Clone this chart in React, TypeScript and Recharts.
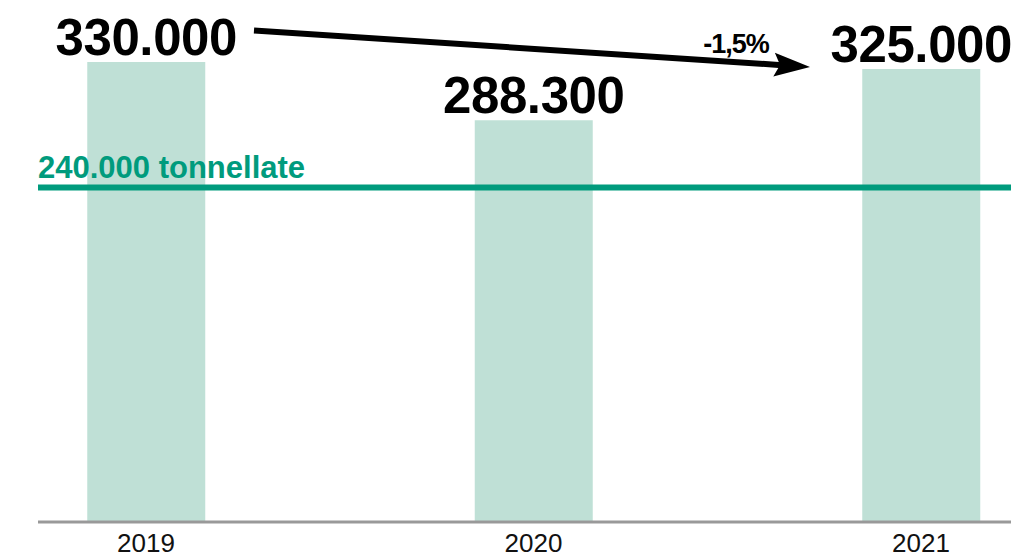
import React from 'react';
import { BarChart, Bar, XAxis, YAxis, ReferenceLine, LabelList } from 'recharts';

const years = [2019, 2020, 2021];
const tonnes = [330000, 288300, 325000];
const target = 240000;
const targetLabel = '240.000 tonnellate';
const changeLabel = '-1,5%';

const data = years.map((year, i) => ({ year, value: tonnes[i] }));

const fmt = (v: number) => String(v).replace(/\B(?=(\d{3})+(?!\d))/g, '.');

const FONT = '"Liberation Sans", Arial, Helvetica, sans-serif';
const GREEN = '#009b7d';
const BAR = '#bfe0d6';

const Arrow = (props: any) => {
  const { x1, y1, x2, y2 } = props;
  const sx = x1 + 108;
  const sy = y1 - 31.5;
  const tx = x2 - 111;
  const ty = y2 - 2;
  const ang = Math.atan2(ty - sy, tx - sx);
  const c = Math.cos(ang);
  const s = Math.sin(ang);
  const len = 36;
  const half = 12;
  const bx = tx - len * c;
  const by = ty - len * s;
  const nx = bx + 6 * c;
  const ny = by + 6 * s;
  const pts = [
    [tx, ty],
    [bx - half * s, by + half * c],
    [nx, ny],
    [bx + half * s, by - half * c],
  ]
    .map((p) => p.join(','))
    .join(' ');
  return (
    <g>
      <line x1={sx} y1={sy} x2={nx + 2 * c} y2={ny + 2 * s} stroke="#000" strokeWidth={6} />
      <polygon points={pts} fill="#000" />
      <text
        x={x2 - 185}
        y={y2 - 16}
        textAnchor="middle"
        fontFamily={FONT}
        fontWeight={700}
        fontSize={27}
        letterSpacing={-1}
        fill="#000"
      >
        {changeLabel}
      </text>
    </g>
  );
};

const TargetLabel = (p: any) => {
  const vb = p.viewBox || {};
  return (
    <text
      x={vb.x}
      y={vb.y - 9}
      fontFamily={FONT}
      fontWeight={700}
      fontSize={31}
      fill={GREEN}
    >
      {targetLabel}
    </text>
  );
};

export default function App() {
  return (
    <div style={{ position: 'absolute', left: 0, top: 0, width: 1011, height: 560, overflow: 'hidden', background: '#fff' }}>
      <BarChart
        width={1011}
        height={560}
        data={data}
        margin={{ top: 62, right: 0, left: 38, bottom: 0 }}
      >
        <XAxis
          dataKey="year"
          type="number"
          domain={[years[0], years[years.length - 1]]}
          ticks={years}
          tickFormatter={(v: number) => String(v)}
          padding={{ left: 108, right: 90 }}
          height={38}
          tickLine={false}
          tickSize={6}
          tickMargin={6}
          axisLine={{ stroke: '#999', strokeWidth: 3 }}
          tick={{ fontFamily: FONT, fontSize: 26, fill: '#111' }}
        />
        <YAxis hide domain={[0, tonnes[0]]} allowDataOverflow />
        <Bar dataKey="value" fill={BAR} barSize={118} isAnimationActive={false}>
          <LabelList
            dataKey="value"
            position="top"
            offset={7}
            formatter={(v: any) => fmt(Number(v))}
            style={{ fontFamily: FONT, fontWeight: 700, fontSize: 51, fill: '#000', letterSpacing: -0.4 }}
          />
        </Bar>
        <ReferenceLine y={target} stroke={GREEN} strokeWidth={6} label={TargetLabel} />
        <ReferenceLine
          segment={[
            { x: years[0], y: tonnes[0] },
            { x: years[2], y: tonnes[2] },
          ]}
          shape={Arrow}
        />
      </BarChart>
    </div>
  );
}
